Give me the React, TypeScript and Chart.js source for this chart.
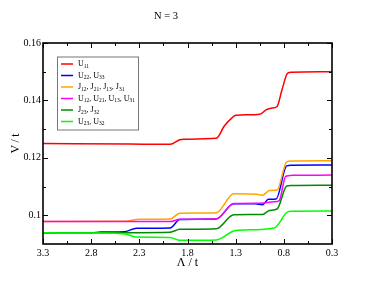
import React, { useEffect, useRef } from 'react';
import { Chart, registerables } from 'chart.js';

Chart.register(...registerables);

const FONT = "'Liberation Serif', 'Times New Roman', serif";

const chartTitle = 'N = 3';
const xAxisTitle = 'Λ / t';
const yAxisTitle = 'V\u2009/\u2009t';

const xMajorTicks = [3.3, 2.8, 2.3, 1.8, 1.3, 0.8, 0.3];
const xMinorTicks = [3.05, 2.55, 2.05, 1.55, 1.05, 0.55];
const yMajorTicks = [0.1, 0.12, 0.14, 0.16];
const yMinorTicks = [0.11, 0.13, 0.15];

const seriesLabels = ['U11', 'U22, U33', 'J12, J21, J13, J31', 'U12, U21, U13, U31', 'J23, J32', 'U23, U32'];
const seriesColors = ['#ff0000', '#0000ff', '#ffa500', '#ff00ff', '#008b00', '#00ff00'];

const u11Lambda = [3.3, 2.4, 1.98, 1.88, 1.84, 1.5, 1.42, 1.33, 1.3, 1.05, 0.98, 0.93, 0.87, 0.82, 0.76, 0.72, 0.3];
const u11Values = [0.125, 0.1248, 0.1247, 0.1263, 0.1265, 0.1268, 0.131, 0.1342, 0.1348, 0.1352, 0.1368, 0.1373, 0.1379, 0.1436, 0.1495, 0.1498, 0.15];

const u22Lambda = [3.3, 2.8, 2.7, 2.45, 2.33, 1.98, 1.88, 1.5, 1.32, 1.1, 1.02, 0.96, 0.88, 0.77, 0.72, 0.3];
const u22Values = [0.0939, 0.0939, 0.0942, 0.0943, 0.0955, 0.0956, 0.0985, 0.0987, 0.104, 0.104, 0.1037, 0.1056, 0.1057, 0.1172, 0.1174, 0.1175];

const j12Lambda = [3.3, 2.45, 2.3, 1.98, 1.88, 1.5, 1.32, 1.08, 1.02, 0.95, 0.87, 0.77, 0.72, 0.3];
const j12Values = [0.0978, 0.0979, 0.0986, 0.0987, 0.1007, 0.1009, 0.1075, 0.1073, 0.107, 0.1086, 0.1088, 0.1186, 0.1189, 0.119];

const u12Lambda = [3.3, 1.98, 1.88, 1.5, 1.32, 1.05, 0.9, 0.85, 0.78, 0.72, 0.3];
const u12Values = [0.0978, 0.0978, 0.0986, 0.0988, 0.1041, 0.1042, 0.1047, 0.105, 0.1136, 0.1139, 0.114];

const j23Lambda = [3.3, 2.8, 1.98, 1.88, 1.5, 1.32, 1.02, 0.95, 0.87, 0.77, 0.72, 0.3];
const j23Values = [0.0939, 0.0939, 0.0941, 0.0951, 0.0953, 0.1002, 0.1003, 0.1017, 0.1022, 0.1102, 0.1104, 0.1105];

const u23Lambda = [3.3, 2.8, 2.45, 2.33, 1.98, 1.88, 1.5, 1.3, 0.9, 0.76, 0.72, 0.3];
const u23Values = [0.0939, 0.0938, 0.0935, 0.0924, 0.0923, 0.0913, 0.0914, 0.0947, 0.0956, 0.1012, 0.1014, 0.1015];

const seriesLambda = [u11Lambda, u22Lambda, j12Lambda, u12Lambda, j23Lambda, u23Lambda];
const seriesValues = [u11Values, u22Values, j12Values, u12Values, j23Values, u23Values];

function drawRichLabel(ctx: CanvasRenderingContext2D, text: string, x: number, y: number) {
  const parts = text.split(/(\d+)/).filter((p) => p.length > 0);
  let cx = x;
  for (const p of parts) {
    const isSub = /^\d+$/.test(p);
    ctx.font = isSub ? `5.5px ${FONT}` : `8px ${FONT}`;
    ctx.fillText(p, cx, isSub ? y + 2.5 : y);
    cx += ctx.measureText(p).width;
  }
}

const framePlugin = {
  id: 'xmFrame',
  afterDatasetsDraw(chart: any) {
    const { ctx, chartArea: a, scales } = chart;
    const xs = scales.x;
    const ys = scales.y;
    ctx.save();
    ctx.strokeStyle = '#000';
    ctx.lineWidth = 1;
    ctx.beginPath();
    const xTick = (v: number, len: number) => {
      const px = Math.round(xs.getPixelForValue(v)) + 0.5;
      ctx.moveTo(px, a.bottom);
      ctx.lineTo(px, a.bottom - len);
      ctx.moveTo(px, a.top);
      ctx.lineTo(px, a.top + len);
    };
    const yTick = (v: number, len: number) => {
      const py = Math.round(ys.getPixelForValue(v)) + 0.5;
      ctx.moveTo(a.left, py);
      ctx.lineTo(a.left + len, py);
      ctx.moveTo(a.right, py);
      ctx.lineTo(a.right - len, py);
    };
    xMajorTicks.forEach((v) => xTick(v, 5));
    xMinorTicks.forEach((v) => xTick(v, 3));
    yMajorTicks.forEach((v) => yTick(v, 5));
    yMinorTicks.forEach((v) => yTick(v, 3));
    ctx.stroke();
    ctx.lineWidth = 1.6;
    ctx.strokeRect(a.left, a.top, a.right - a.left, a.bottom - a.top);

    // legend
    const bx = a.left + 14;
    const by = a.top + 13.5;
    const bw = 81;
    const bh = 73;
    ctx.fillStyle = '#fff';
    ctx.fillRect(bx, by, bw, bh);
    ctx.strokeStyle = '#777';
    ctx.lineWidth = 1;
    ctx.strokeRect(bx + 0.5, by + 0.5, bw, bh);
    ctx.textBaseline = 'middle';
    ctx.textAlign = 'left';
    seriesLabels.forEach((label, i) => {
      const ry = by + 7.5 + i * 11.5;
      ctx.strokeStyle = seriesColors[i];
      ctx.lineWidth = 1.5;
      ctx.beginPath();
      ctx.moveTo(bx + 4, ry);
      ctx.lineTo(bx + 16, ry);
      ctx.stroke();
      ctx.fillStyle = '#000';
      drawRichLabel(ctx, label, bx + 21, ry);
    });
    ctx.restore();
  },
};

export default function App() {
  const canvasRef = useRef<HTMLCanvasElement | null>(null);

  useEffect(() => {
    if (!canvasRef.current) return;
    const datasets = seriesLabels.map((label, i) => ({
      label,
      data: seriesLambda[i].map((x, k) => ({ x, y: seriesValues[i][k] })),
      borderColor: seriesColors[i],
      backgroundColor: seriesColors[i],
      borderWidth: 1.5,
      pointRadius: 0,
      cubicInterpolationMode: 'monotone' as const,
      fill: false,
      order: -i,
    }));
    const chart = new Chart(canvasRef.current, {
      type: 'line',
      data: { datasets },
      options: {
        animation: false,
        responsive: true,
        maintainAspectRatio: false,
        parsing: false,
        layout: { padding: { left: 0, right: 42, top: 0, bottom: 0 } },
        plugins: {
          legend: { display: false },
          tooltip: { enabled: false },
          title: {
            display: true,
            text: chartTitle,
            color: '#000',
            font: { family: FONT, size: 10.5, weight: 'normal' },
            padding: { top: 10.2, bottom: 20.2 },
          },
        },
        scales: {
          x: {
            type: 'linear',
            reverse: true,
            min: 0.3,
            max: 3.3,
            afterBuildTicks: (s: any) => {
              s.ticks = xMajorTicks.map((v) => ({ value: v }));
            },
            afterFit: (s: any) => {
              s.height = 45;
            },
            grid: { display: false, drawTicks: false },
            border: { display: false },
            ticks: {
              color: '#000',
              font: { family: FONT, size: 10 },
              padding: 3,
              maxRotation: 0,
              autoSkip: false,
              callback: (v: any) => Number(v).toFixed(1),
            },
            title: {
              display: true,
              text: xAxisTitle,
              color: '#000',
              font: { family: FONT, size: 12 },
              padding: { top: 0, bottom: 18.8 },
            },
          },
          y: {
            type: 'linear',
            min: 0.09,
            max: 0.16,
            afterBuildTicks: (s: any) => {
              s.ticks = yMajorTicks.map((v) => ({ value: v }));
            },
            afterFit: (s: any) => {
              s.width = 43;
            },
            grid: { display: false, drawTicks: false },
            border: { display: false },
            ticks: {
              color: '#000',
              font: { family: FONT, size: 10 },
              padding: 2,
              autoSkip: false,
              callback: (v: any) => String(Number(Number(v).toFixed(2))),
            },
            title: {
              display: true,
              text: yAxisTitle,
              color: '#000',
              font: { family: FONT, size: 12 },
              padding: { top: 8.3, bottom: 0 },
            },
          },
        },
      },
      plugins: [framePlugin],
    });
    return () => chart.destroy();
  }, []);

  return (
    <div style={{ position: 'absolute', left: 0, top: 0, width: 374, height: 289, background: '#fff' }}>
      <canvas ref={canvasRef} />
    </div>
  );
}
